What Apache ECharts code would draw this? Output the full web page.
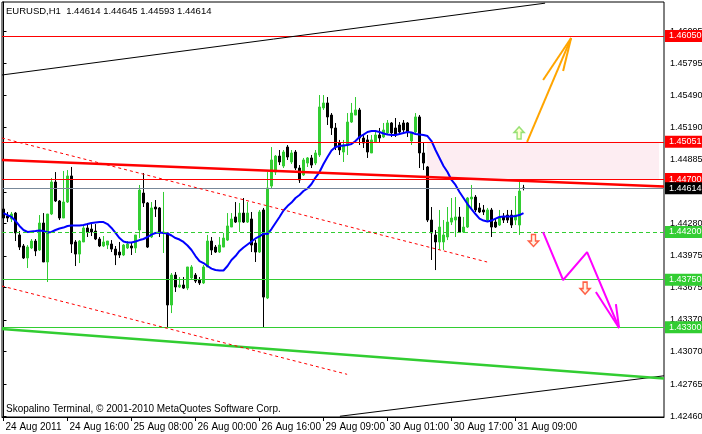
<!DOCTYPE html>
<html>
<head>
<meta charset="utf-8">
<script src="https://cdn.jsdelivr.net/npm/echarts@6/dist/echarts.min.js"></script>
<style>
html,body{margin:0;padding:0;background:#ffffff;}
#chart{width:702px;height:434px;}
</style>
</head>
<body>
<div id="chart"></div>
<script>
// ---------- data ----------
const symbolTitle = 'EURUSD,H1  1.44614 1.44645 1.44593 1.44614';
const copyrightText = 'Skopalino Terminal, \u00A9 2001-2010 MetaQuotes Software Corp.';

const barOpen = [
1.44417,1.44351,1.44323,1.44379,1.44172,1.44068,1.43955,1.44049,1.44115,1.44030,
1.44285,1.43917,1.44370,1.44672,1.44493,1.44332,1.44483,1.44729,1.44106,1.43992,
1.44106,1.44238,1.44228,1.44209,1.44134,1.44068,1.44077,1.44087,1.44039,1.44011,
1.43983,1.44049,1.44068,1.44049,1.44219,1.44568,1.44474,1.44153,1.44436,1.44427,
1.44191,1.44191,1.43511,1.43794,1.43681,1.43700,1.43671,1.43766,1.43794,1.43747,
1.43719,1.43870,1.44115,1.44058,1.44011,1.44058,1.44124,1.44247,1.44342,1.44294,
1.44379,1.44294,1.44323,1.44096,1.44011,1.44408,1.43577,1.44634,1.44766,1.44917,
1.44823,1.45002,1.44861,1.44955,1.44804,1.44738,1.44851,1.44899,1.44851,1.44927,
1.45371,1.45418,1.45304,1.45182,1.45040,1.44955,1.45021,1.45238,1.45304,1.45352,
1.45087,1.45069,1.44946,1.45050,1.45116,1.45097,1.45135,1.45229,1.45182,1.45210,
1.45229,1.45229,1.45059,1.45144,1.45286,1.44946,1.44814,1.44313,1.44172,1.44106,
1.44106,1.44153,1.44294,1.44313,1.44342,1.44200,1.44247,1.44512,1.44530,1.44427,
1.44408,1.44313,1.44408,1.44294,1.44266,1.44342,1.44360,1.44360,1.44313,1.44266,
1.44614];
const barClose = [
1.44332,1.44332,1.44370,1.44191,1.44058,1.43955,1.44058,1.44115,1.44021,1.44285,
1.43917,1.44370,1.44672,1.44493,1.44332,1.44483,1.44729,1.44087,1.43992,1.44115,
1.44238,1.44200,1.44200,1.44134,1.44068,1.44106,1.44115,1.44039,1.43983,1.43983,
1.44077,1.44087,1.44049,1.44172,1.44596,1.44474,1.44058,1.44427,1.44417,1.44191,
1.44200,1.43511,1.43794,1.43681,1.43700,1.43671,1.43870,1.43870,1.43737,1.43719,
1.43870,1.44115,1.44030,1.44011,1.44077,1.44143,1.44257,1.44323,1.44294,1.44379,
1.44294,1.44379,1.44077,1.44011,1.44389,1.43586,1.44615,1.44880,1.44917,1.44861,
1.44955,1.44908,1.44946,1.44804,1.44691,1.44880,1.44899,1.44832,1.44946,1.45380,
1.45418,1.45286,1.45182,1.45002,1.44974,1.45021,1.45238,1.45323,1.45352,1.45087,
1.45040,1.44955,1.45069,1.45116,1.45087,1.45163,1.45229,1.45135,1.45116,1.45144,
1.45163,1.45144,1.45135,1.45286,1.44946,1.44851,1.44313,1.44191,1.44106,1.44247,
1.44172,1.44294,1.44332,1.44342,1.44200,1.44247,1.44521,1.44530,1.44408,1.44389,
1.44389,1.44408,1.44247,1.44247,1.44342,1.44313,1.44313,1.44266,1.44360,1.44587,
1.44614];
const barLow = [
1.44294,1.44294,1.44294,1.44115,1.44030,1.43945,1.43860,1.44039,1.43973,1.44021,
1.43917,1.43728,1.44360,1.44483,1.44313,1.44332,1.44474,1.44002,1.43879,1.43907,
1.44106,1.44153,1.44162,1.44124,1.44058,1.44058,1.44039,1.44011,1.43888,1.43955,
1.43973,1.44039,1.43983,1.44002,1.44143,1.44436,1.44049,1.44143,1.44342,1.44153,
1.44002,1.43303,1.43435,1.43634,1.43671,1.43662,1.43652,1.43747,1.43719,1.43700,
1.43709,1.43870,1.43983,1.44002,1.44002,1.44058,1.44115,1.44247,1.44285,1.44200,
1.44285,1.44285,1.44011,1.43917,1.44002,1.43294,1.43567,1.44615,1.44738,1.44832,
1.44804,1.44880,1.44842,1.44785,1.44663,1.44729,1.44814,1.44804,1.44832,1.44908,
1.45352,1.45210,1.45116,1.44974,1.44927,1.44861,1.44927,1.45229,1.45304,1.45021,
1.44993,1.44899,1.44946,1.45040,1.45050,1.45087,1.45116,1.45097,1.45097,1.45116,
1.45135,1.45097,1.45021,1.45135,1.44804,1.44785,1.44294,1.43936,1.43841,1.44030,
1.44030,1.44124,1.44266,1.44153,1.44191,1.44191,1.44238,1.44408,1.44389,1.44379,
1.44360,1.44294,1.44153,1.44238,1.44257,1.44285,1.44285,1.44238,1.44266,1.44172,
1.44593];
const barHigh = [
1.44427,1.44389,1.44389,1.44389,1.44209,1.44087,1.44077,1.44134,1.44134,1.44360,
1.44379,1.44370,1.44710,1.44766,1.44502,1.44776,1.44785,1.44814,1.44124,1.44124,
1.44266,1.44285,1.44275,1.44275,1.44153,1.44162,1.44115,1.44124,1.44068,1.44106,
1.44087,1.44115,1.44106,1.44172,1.44644,1.44757,1.44483,1.44483,1.44502,1.44436,
1.44578,1.44191,1.43813,1.43822,1.43775,1.43775,1.43870,1.43888,1.43813,1.43775,
1.43888,1.44172,1.44153,1.44077,1.44153,1.44191,1.44379,1.44379,1.44483,1.44474,
1.44521,1.44483,1.44389,1.44124,1.44408,1.44427,1.44766,1.45002,1.44927,1.44974,
1.44974,1.45021,1.44974,1.44974,1.44832,1.44899,1.44908,1.44927,1.44974,1.45493,
1.45493,1.45474,1.45323,1.45229,1.45069,1.45069,1.45323,1.45418,1.45474,1.45371,
1.45116,1.45116,1.45116,1.45163,1.45182,1.45229,1.45257,1.45238,1.45276,1.45238,
1.45257,1.45238,1.45144,1.45323,1.45304,1.45040,1.44823,1.44436,1.44219,1.44408,
1.44313,1.44436,1.44521,1.44530,1.44436,1.44342,1.44530,1.44644,1.44549,1.44474,
1.44455,1.44427,1.44427,1.44332,1.44408,1.44379,1.44408,1.44408,1.44540,1.44672,
1.44645];
const maValues = [
1.44379,1.44360,1.44342,1.44304,1.44257,1.44219,1.44200,1.44205,1.44209,1.44214,
1.44209,1.44195,1.44200,1.44219,1.44233,1.44242,1.44257,1.44261,1.44261,1.44261,
1.44266,1.44275,1.44285,1.44290,1.44294,1.44294,1.44275,1.44238,1.44191,1.44143,
1.44110,1.44101,1.44101,1.44110,1.44124,1.44134,1.44153,1.44176,1.44191,1.44195,
1.44191,1.44186,1.44167,1.44143,1.44129,1.44106,1.44073,1.44030,1.43973,1.43926,
1.43907,1.43879,1.43855,1.43841,1.43837,1.43837,1.43879,1.43936,1.43973,1.44021,
1.44054,1.44082,1.44110,1.44139,1.44158,1.44186,1.44181,1.44228,1.44285,1.44342,
1.44403,1.44445,1.44478,1.44521,1.44549,1.44587,1.44611,1.44653,1.44714,1.44766,
1.44842,1.44908,1.44969,1.45002,1.45012,1.45017,1.45021,1.45031,1.45059,1.45097,
1.45120,1.45144,1.45153,1.45153,1.45144,1.45130,1.45120,1.45116,1.45116,1.45125,
1.45135,1.45144,1.45139,1.45125,1.45120,1.45116,1.45106,1.45059,1.44974,1.44899,
1.44823,1.44766,1.44691,1.44644,1.44578,1.44521,1.44464,1.44417,1.44370,1.44327,
1.44308,1.44299,1.44308,1.44327,1.44342,1.44346,1.44346,1.44346,1.44351,1.44360,
1.44379];

// time axis ticks (bar index -> label)
const timeTickBars = [0, 16, 32, 48, 64, 80, 96, 112, 128];
const timeTickLabels = ['24 Aug 2011', '24 Aug 16:00', '25 Aug 08:00', '26 Aug 00:00',
  '26 Aug 16:00', '29 Aug 09:00', '30 Aug 01:00', '30 Aug 17:00', '31 Aug 09:00'];
// price scale ticks
const priceTicks = [1.46095, 1.45795, 1.45490, 1.45190, 1.44885, 1.44580, 1.44280,
  1.43975, 1.43675, 1.43370, 1.43070, 1.42765, 1.42460];
const priceMin = 1.42454;
const priceMax = 1.46371;
const barMin = -0.375;
const barMax = 165.125;

// horizontal levels
const resistanceLevels = [1.46050, 1.45051, 1.44700];
const bidLevel = 1.44614;
const pivotLevel = 1.44200;
const supportLevels = [1.43750, 1.43300];

// shaded zone
const zoneBars = [105.9, 163.9];
const zonePrices = [1.45051, 1.44700];

// trend lines: [[bar, price], [bar, price]]
const upperBlackLine = [[-0.375, 1.45682], [135.4, 1.46360]];
const lowerBlackLine = [[84.1, 1.42461], [165.125, 1.42843]];
const greenTrendLine = [[-0.375, 1.43284], [165.125, 1.42817]];
const redTrendLine = [[-0.375, 1.44880], [165.125, 1.44629]];
const redDashUpper = [[-0.375, 1.45087], [120.9, 1.43917]];
const redDashLower = [[-0.375, 1.43690], [85.9, 1.42857]];

// projected paths
const orangePath = [[130.9, 1.45050], [141.9, 1.46031]];
const orangeHeadA = [[134.9, 1.45635], [141.9, 1.46031]];
const orangeHeadB = [[139.9, 1.45720], [141.9, 1.46031]];
const magentaPath = [[134.9, 1.44200], [139.9, 1.43747], [145.9, 1.44011], [153.9, 1.43294]];
const magentaHeadA = [[148.1, 1.43634], [153.9, 1.43294]];
const magentaHeadB = [[153.1, 1.43520], [153.9, 1.43294]];

// signal arrows
const upArrows = [[128.9, 1.45135]];
const downArrows = [[132.5, 1.44120], [145.4, 1.43671]];

// ---------- chart ----------
const FONT = "'Liberation Sans',Arial,sans-serif";
const GREEN = '#32cd32';
const RED = '#ff0000';
const AXIS_FS = 9;

const candleData = barOpen.map((o, i) => [i, o, barClose[i], barLow[i], barHigh[i]]);
const maData = maValues.map((v, i) => [i, v]);

function levelItem(price, lineColor, boxColor, textColor, dashed) {
  return {
    yAxis: price,
    lineStyle: { color: lineColor, width: 1, type: dashed ? [4, 3] : 'solid' },
    label: {
      show: true, position: 'end', distance: 1,
      formatter: price.toFixed(5),
      color: textColor, backgroundColor: boxColor,
      padding: [1, 8, 1, 4], lineHeight: 10,
      fontFamily: FONT, fontSize: AXIS_FS
    }
  };
}
const levelData = []
  .concat(resistanceLevels.map(p => levelItem(p, RED, RED, '#ffffff', false)))
  .concat([levelItem(pivotLevel, GREEN, GREEN, '#ffffff', true)])
  .concat(supportLevels.map(p => levelItem(p, GREEN, GREEN, '#ffffff', false)))
  .concat([levelItem(bidLevel, '#778899', '#000000', '#ffffff', false)]);

function segment(name, pts, color, width, type, z) {
  return {
    name, type: 'line', data: pts, showSymbol: false, symbol: 'none',
    silent: true, animation: false, clip: true, z: z || 5,
    lineStyle: { color, width, type: type || 'solid' }
  };
}

const upArrowPath = 'path://M5,0 L10,5 L7,5 L7,11 L3,11 L3,5 L0,5 Z';
const downArrowPath = 'path://M3,0 L7,0 L7,6 L10,6 L5,11 L0,6 L3,6 Z';

const option = {
  animation: false,
  backgroundColor: '#ffffff',
  title: [
    { text: symbolTitle, left: 6, top: 6, padding: 0,
      textStyle: { fontFamily: FONT, fontSize: 9.5, fontWeight: 'normal', color: '#000' } },
    { text: copyrightText, left: 6, top: 404, padding: 0,
      textStyle: { fontFamily: FONT, fontSize: 10, fontWeight: 'normal', color: '#000' } }
  ],
  grid: {
    left: 2, top: 2, right: 38, bottom: 17,
    show: true, borderColor: '#000', borderWidth: 1, backgroundColor: '#fff',
    containLabel: false, outerBoundsMode: 'none'
  },
  xAxis: {
    type: 'value', min: barMin, max: barMax,
    axisLine: { show: true, lineStyle: { color: '#000', width: 1 } },
    splitLine: { show: false }, minorSplitLine: { show: false }, splitArea: { show: false },
    axisTick: { show: true, customValues: timeTickBars, length: 4, lineStyle: { color: '#000' } },
    axisLabel: {
      show: true, customValues: timeTickBars, margin: 5, align: 'left', padding: [0, 0, 0, 2],
      formatter: v => timeTickLabels[timeTickBars.indexOf(Math.round(v))] || '',
      fontFamily: FONT, fontSize: 10, color: '#000'
    }
  },
  yAxis: {
    type: 'value', position: 'right', min: priceMin, max: priceMax, scale: true,
    axisLine: { show: true, lineStyle: { color: '#000', width: 1 } },
    splitLine: { show: false }, minorSplitLine: { show: false }, splitArea: { show: false },
    axisTick: { show: true, customValues: priceTicks, length: 3, lineStyle: { color: '#000' } },
    axisLabel: {
      show: true, customValues: priceTicks, margin: 6,
      formatter: v => Number(v).toFixed(5),
      fontFamily: FONT, fontSize: AXIS_FS, color: '#000'
    }
  },
  series: [
    {
      name: 'EURUSD', type: 'candlestick', data: candleData, barWidth: 2, z: 3,
      silent: true, animation: false,
      itemStyle: {
        color: GREEN, color0: '#000000',
        borderColor: GREEN, borderColor0: '#000000', borderColorDoji: '#000000',
        borderWidth: 1
      },
      markArea: {
        silent: true, z: 1, label: { show: false },
        itemStyle: { color: '#fdedf2', borderWidth: 0 },
        data: [[{ coord: [zoneBars[0], zonePrices[0]] }, { coord: [zoneBars[1], zonePrices[1]] }]]
      }
    },
    {
      name: 'MA', type: 'line', data: maData, showSymbol: false, symbol: 'none', z: 4,
      silent: true, animation: false,
      lineStyle: { color: '#0000ff', width: 2 },
      markLine: {
        silent: true, symbol: 'none', animation: false, z: 5, precision: 5,
        labelLayout: { hideOverlap: false },
        data: levelData
      }
    },
    segment('upperBlack', upperBlackLine, '#000000', 1),
    segment('lowerBlack', lowerBlackLine, '#000000', 1),
    segment('greenTrend', greenTrendLine, GREEN, 2.5),
    segment('redTrend', redTrendLine, RED, 2.5),
    segment('redDashUpper', redDashUpper, RED, 1, [3, 3]),
    segment('redDashLower', redDashLower, RED, 1, [3, 3]),
    segment('orange', orangePath, '#ffa500', 2, 'solid', 6),
    segment('orangeA', orangeHeadA, '#ffa500', 2, 'solid', 6),
    segment('orangeB', orangeHeadB, '#ffa500', 2, 'solid', 6),
    segment('magenta', magentaPath, '#ff00ff', 2, 'solid', 6),
    segment('magentaA', magentaHeadA, '#ff00ff', 2, 'solid', 6),
    segment('magentaB', magentaHeadB, '#ff00ff', 2, 'solid', 6),
    {
      name: 'up', type: 'scatter', data: upArrows, symbol: upArrowPath, symbolSize: [10, 12],
      z: 7, silent: true, animation: false,
      itemStyle: { color: '#ffffc8', borderColor: '#7ed957', borderWidth: 1.5 }
    },
    {
      name: 'down', type: 'scatter', data: downArrows, symbol: downArrowPath, symbolSize: [10, 12],
      z: 7, silent: true, animation: false,
      itemStyle: { color: '#fff0e0', borderColor: '#ff3a1a', borderWidth: 1.5 }
    }
  ]
};

const chart = echarts.init(document.getElementById('chart'), null, { renderer: 'canvas' });
chart.setOption(option);
</script>
</body>
</html>
